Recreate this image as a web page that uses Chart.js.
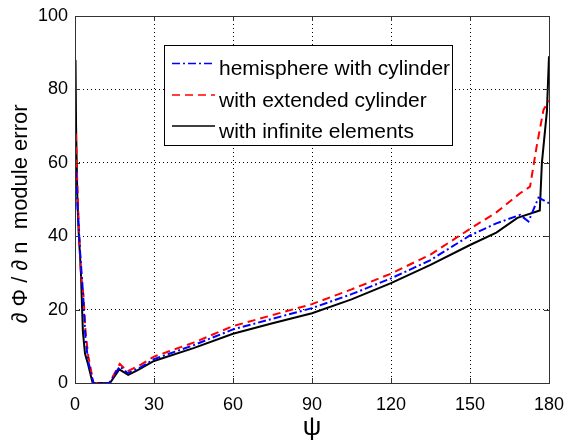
<!DOCTYPE html>
<html>
<head>
<meta charset="utf-8">
<script src="https://cdn.jsdelivr.net/npm/chart.js@4/dist/chart.umd.min.js"></script>
<style>
  html,body{margin:0;padding:0;background:#fff;}
  #wrap{width:567px;height:444px;}
</style>
</head>
<body>
<div id="wrap"><canvas id="errChart" width="567" height="444"></canvas></div>
<script>
/* ---------- data ---------- */
const xTicks = [0, 30, 60, 90, 120, 150, 180];
const yTicks = [0, 20, 40, 60, 80, 100];

// hemisphere with cylinder (blue dash-dot)
const psiHemi = [0.3, 0.7, 1.2, 2, 3, 4, 5, 7, 13, 17, 20, 25, 30, 45, 60, 75, 90, 105, 120, 135, 150, 160, 169, 172.2, 176, 180];
const errHemi = [58, 52, 45, 35, 25, 12, 6, 0, 0, 4.5, 2.7, 4.3, 6.5, 10.3, 14.6, 17.5, 20.4, 24.2, 28.5, 33.5, 40.2, 43.5, 45.8, 44, 50.5, 49];

// with extended cylinder (red dashed)
const psiExt = [0.3, 0.6, 1, 1.5, 2.2, 3.2, 4, 5, 7, 13, 17, 20, 25, 30, 45, 60, 75, 90, 105, 120, 135, 150, 160, 169, 172.8, 175.3, 177.9, 180];
const errExt = [68, 60, 52, 42, 30, 24, 14, 7.5, 0, 0, 5.2, 3.2, 5, 7.2, 11, 15.5, 18.5, 21.5, 25.5, 29.8, 35, 42, 46.5, 51.7, 53.5, 64.4, 74.4, 77];

// with infinite elements (black solid)
const psiInf = [0.2, 0.4, 0.9, 1.4, 2.2, 3, 3.8, 5, 6.7, 13.3, 16.8, 20.2, 24, 30, 45, 60, 75, 90, 105, 120, 135, 150, 160, 168, 176.5, 177.3, 179.2, 180];
const errInf = [88, 70, 50, 41, 31, 14, 8, 5, 0, 0, 3.7, 2.2, 3.6, 6, 9.5, 13.4, 16.3, 19, 22.8, 27.2, 32.2, 37.6, 41, 45, 47, 60, 74, 89];

const seriesNames = ['hemisphere with cylinder', 'with extended cylinder', 'with infinite elements'];
const yTitle = '∂ Φ / ∂ n  module error';
const xTitle = 'ψ';

/* ---------- helpers ---------- */
const toPts = (xs, ys) => xs.map((x, i) => ({x, y: ys[i]}));
const FONT = 'Liberation Sans, Arial, Helvetica, sans-serif';

/* ---------- frame + inward ticks (matlab box) + y label ---------- */
const boxPlugin = {
  id: 'matlabBox',
  afterDatasetsDraw(chart) {
    const {ctx, chartArea: a, scales: {x, y}} = chart;
    ctx.save();
    ctx.strokeStyle = '#333';
    ctx.lineWidth = 1;
    ctx.setLineDash([]);
    ctx.beginPath();
    xTicks.forEach(v => {
      const px = Math.round(x.getPixelForValue(v)) + 0.5;
      ctx.moveTo(px, a.bottom); ctx.lineTo(px, a.bottom - 5);
      ctx.moveTo(px, a.top); ctx.lineTo(px, a.top + 5);
    });
    yTicks.forEach(v => {
      const py = Math.round(y.getPixelForValue(v)) + 0.5;
      ctx.moveTo(a.left, py); ctx.lineTo(a.left + 5, py);
      ctx.moveTo(a.right, py); ctx.lineTo(a.right - 5, py);
    });
    ctx.stroke();
    ctx.strokeRect(Math.round(a.left) + 0.5, Math.round(a.top) + 0.5,
                   Math.round(a.right - a.left), Math.round(a.bottom - a.top));
    // y axis label, rotated
    ctx.translate(27, 214);
    ctx.rotate(-Math.PI / 2);
    ctx.fillStyle = '#000';
    ctx.font = '22px ' + FONT;
    ctx.textAlign = 'center';
    ctx.textBaseline = 'alphabetic';
    ctx.fillText(yTitle, 0, 0);
    ctx.restore();
  }
};

/* ---------- boxed legend inside the axes ---------- */
const legendPlugin = {
  id: 'boxLegend',
  afterDraw(chart) {
    const {ctx} = chart;
    const bx = 164, by = 45, bw = 288, bh = 100;
    ctx.save();
    ctx.fillStyle = '#fff';
    ctx.fillRect(bx, by, bw, bh);
    ctx.strokeStyle = '#000';
    ctx.lineWidth = 1;
    ctx.setLineDash([]);
    ctx.strokeRect(bx + 0.5, by + 0.5, bw, bh);
    ctx.font = '21px ' + FONT;
    ctx.textBaseline = 'alphabetic';
    ctx.textAlign = 'left';
    const baselines = [75, 106.5, 137.5];
    chart.data.datasets.forEach((ds, i) => {
      const ly = baselines[i] - 11.5;
      ctx.strokeStyle = ds.borderColor;
      ctx.lineWidth = 1.5;
      ctx.setLineDash(ds.borderDash || []);
      ctx.beginPath();
      ctx.moveTo(172, ly); ctx.lineTo(215, ly);
      ctx.stroke();
      ctx.setLineDash([]);
      ctx.fillStyle = '#000';
      ctx.fillText(ds.label, 219, baselines[i]);
    });
    ctx.restore();
  }
};

/* ---------- chart ---------- */
const ctx = document.getElementById('errChart').getContext('2d');
new Chart(ctx, {
  type: 'line',
  data: {
    datasets: [
      {label: seriesNames[0], data: toPts(psiHemi, errHemi), borderColor: '#0000ff', borderWidth: 2, borderDash: [8, 3, 2, 3]},
      {label: seriesNames[1], data: toPts(psiExt, errExt), borderColor: '#ff0000', borderWidth: 2, borderDash: [8, 5]},
      {label: seriesNames[2], data: toPts(psiInf, errInf), borderColor: '#000000', borderWidth: 2}
    ]
  },
  options: {
    responsive: false,
    animation: false,
    elements: {point: {radius: 0}, line: {tension: 0}},
    layout: {padding: {left: 0, right: 18, top: 16, bottom: 0}},
    plugins: {legend: {display: false}, tooltip: {enabled: false}},
    scales: {
      x: {
        type: 'linear', min: 0, max: 180,
        afterFit: s => { s.height = 61; s.paddingLeft = 0; s.paddingRight = 0; },
        afterBuildTicks: s => { s.ticks = xTicks.map(v => ({value: v})); },
        ticks: {color: '#000', padding: 11, font: {family: FONT, size: 18}, maxRotation: 0},
        grid: {color: '#000', lineWidth: 1, drawTicks: false},
        border: {display: false, dash: [1, 3]},
        title: {display: true, text: xTitle, color: '#000', font: {family: FONT, size: 26, lineHeight: 1}, padding: {top: 0, bottom: 3}}
      },
      y: {
        type: 'linear', min: 0, max: 100,
        afterFit: s => { s.width = 75; s.paddingTop = 0; s.paddingBottom = 0; },
        afterBuildTicks: s => { s.ticks = yTicks.map(v => ({value: v})); },
        ticks: {color: '#000', padding: 7, font: {family: FONT, size: 18}},
        grid: {color: '#000', lineWidth: 1, drawTicks: false},
        border: {display: false, dash: [1, 3]}
      }
    }
  },
  plugins: [boxPlugin, legendPlugin]
});
</script>
</body>
</html>
